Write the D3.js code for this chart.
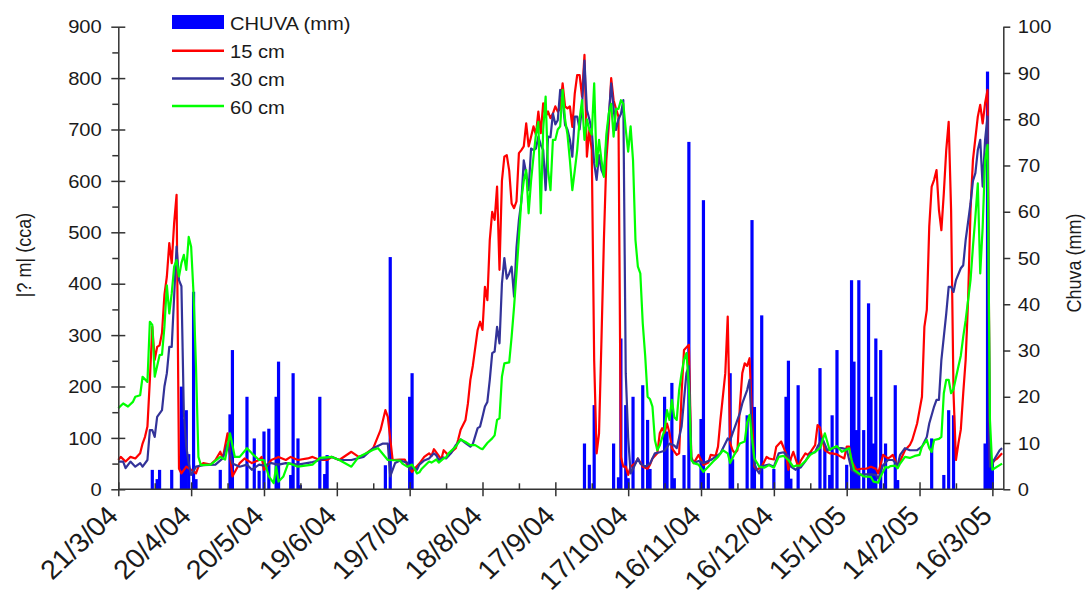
<!DOCTYPE html>
<html lang="pt">
<head>
<meta charset="UTF-8">
<title>Potencial matricial e chuva</title>
<script src="https://d3js.org/d3.v7.min.js"></script>
<style>
  body { margin: 0; background: #fff; }
  svg text { font-family: Arial, "Liberation Sans", sans-serif; fill: #1a1a1a; }
  .axis path, .axis line { stroke: #333; stroke-width: 1.5; }
</style>
</head>
<body>
<script>
// day 0 = 21/3/2004
const startDate = new Date(Date.UTC(2004, 2, 21));

// rainfall, [day, mm]
const chuva = [[14,4.2],[16,2.2],[17,4.2],[22,4.2],[26,22.2],[27,15.3],[28,17.1],[29,7.6],[31,42.7],[32,2.2],
  [42,4.2],[46,16.2],[47,30.1],[53,20],[56,11],[58,4],[60,12.5],[62,13.1],[65,20],[66,27.6],[71,3.1],[72,25.1],
  [74,11],[75,0.9],[83,20],[85,3.3],[86,7.4],[110,5.2],[112,50.2],[120,20],[121,25.1],
  [192,9.9],[194,5.3],[196,18.2],[204,9.9],[206,2.6],[207,32.6],[209,18.2],[210,2.4],[212,20],[216,22.5],
  [218,15],[219,4.4],[225,20],[226,12.5],[228,23],[229,2.4],[233,7.4],[235,75.1],[240,15.2],[241,62.5],
  [243,3.5],[252,25.1],[253,6.5],[259,16],[261,58.2],[262,17.8],[265,37.6],[270,4.4],[275,20],[276,27.8],
  [277,2.3],[280,22.5],[289,26.2],[291,8.9],[293,3.1],[294,16],[296,30.1],[300,5.3],[302,45.2],[303,27.6],
  [304,12.8],[305,45.2],[307,12.8],[309,40.2],[310,20],[311,9.9],[312,32.6],[314,30.1],[316,9.9],[320,22.5],
  [321,2],[335,11],[340,3.1],[342,17.1],[344,16],[357,9.9],[358,90.3],[359,9.2],[360,6.5]];

// 15 cm, [day, value]
const cm15 = [[0,57],[1,63],[3,54],[5,63],[7,60],[9,70],[10,89],[11,102],[12,122],[13,213],[14,316],[15,252],
  [16,277],[17,280],[18,304],[19,378],[20,414],[21,479],[22,440],[23,518],[24,573],[25,40],[26,31],[28,44],
  [30,38],[32,31],[33,44],[35,51],[38,48],[40,57],[42,73],[43,60],[45,109],[47,25],[50,51],[52,60],[55,51],
  [58,57],[59,63],[60,38],[63,57],[66,63],[69,57],[71,63],[74,57],[78,60],[80,63],[83,57],[86,57],[88,63],
  [91,57],[96,73],[99,63],[101,66],[105,80],[108,115],[110,154],[111,141],[113,57],[116,58],[118,58],[119,47],
  [121,34],[122,40],[124,50],[126,63],[128,70],[129,65],[130,78],[132,65],[133,58],[134,76],[136,66],[137,72],
  [139,80],[140,97],[141,116],[143,135],[144,167],[145,213],[146,240],[148,310],[149,326],[150,310],[151,394],
  [152,368],[153,485],[154,540],[155,524],[156,589],[157,427],[158,600],[159,647],[160,650],[161,620],[162,556],
  [163,547],[164,560],[165,654],[166,660],[167,667],[168,712],[169,667],[170,686],[171,706],[172,690],[173,735],
  [174,693],[175,751],[176,725],[177,735],[178,722],[179,731],[180,745],[181,735],[182,740],[183,790],[184,745],
  [185,741],[186,745],[187,705],[188,770],[189,806],[190,806],[191,764],[192,845],[193,647],[194,699],[195,660],
  [196,250],[197,70],[198,109],[199,291],[200,485],[201,640],[202,706],[203,800],[204,757],[205,740],[206,725],
  [207,63],[208,44],[209,44],[210,28],[211,44],[213,51],[214,60],[216,44],[218,40],[219,48],[220,60],[222,70],
  [223,109],[224,119],[225,110],[226,128],[227,110],[228,80],[230,67],[231,70],[232,187],[233,271],[235,281],
  [236,63],[237,51],[239,67],[240,57],[241,47],[243,52],[244,67],[246,65],[247,83],[248,135],[250,226],[251,336],
  [252,90],[253,76],[254,70],[255,76],[256,161],[257,226],[258,245],[259,240],[260,255],[261,141],[262,44],
  [263,38],[265,44],[267,63],[268,60],[270,58],[271,83],[273,93],[275,70],[276,38],[277,60],[278,73],[280,44],
  [281,55],[283,70],[284,67],[285,72],[287,86],[288,125],[289,120],[290,96],[291,76],[293,70],[294,70],[296,68],
  [297,65],[299,60],[300,83],[301,83],[302,55],[304,38],[306,40],[308,40],[310,44],[312,40],[313,31],[315,67],
  [317,60],[318,63],[319,67],[321,44],[322,55],[324,76],[326,86],[327,96],[329,128],[330,154],[331,180],[332,316],
  [333,349],[334,511],[335,589],[336,602],[337,621],[338,543],[339,504],[340,576],[341,660],[342,715],[343,543],
  [344,187],[345,57],[346,89],[347,116],[348,187],[349,252],[350,368],[351,543],[352,641],[354,725],[355,748],
  [356,712],[357,751],[358,777],[359,57],[360,51],[361,57],[362,60],[364,70]];

// 30 cm
const cm30 = [[0,54],[2,54],[3,41],[5,54],[7,44],[9,51],[10,44],[12,57],[13,115],[14,115],[15,102],[16,141],
  [18,154],[19,200],[20,226],[21,277],[22,277],[23,375],[24,472],[25,407],[26,395],[27,148],[28,83],[29,51],
  [30,28],[32,44],[35,47],[40,48],[43,60],[45,89],[47,50],[50,44],[53,48],[55,38],[58,48],[60,46],[63,51],
  [66,48],[69,51],[74,48],[80,53],[88,63],[91,57],[96,57],[101,63],[105,80],[109,89],[111,89],[112,25],[114,51],
  [116,56],[119,52],[120,38],[121,44],[123,38],[124,48],[126,56],[128,60],[130,70],[131,66],[132,57],[134,62],
  [135,60],[137,70],[139,86],[141,97],[143,90],[145,83],[146,88],[148,119],[149,122],[150,141],[151,161],[152,170],
  [153,213],[154,265],[155,268],[156,316],[157,284],[158,400],[159,450],[160,410],[161,420],[162,433],[163,375],
  [164,470],[165,524],[166,560],[167,640],[168,615],[169,582],[170,663],[171,660],[172,663],[173,686],[174,670],
  [175,660],[176,582],[177,686],[178,685],[179,731],[180,710],[181,718],[182,777],[183,760],[184,709],[185,700],
  [186,680],[187,647],[188,725],[189,725],[190,700],[191,745],[192,834],[193,738],[194,720],[195,699],[196,634],
  [197,602],[198,650],[199,621],[200,610],[201,673],[202,725],[203,790],[204,740],[205,699],[206,720],[207,730],
  [208,757],[209,226],[210,100],[211,31],[212,40],[214,60],[215,50],[217,44],[219,50],[221,70],[223,72],[225,75],
  [227,89],[229,85],[230,80],[232,122],[233,174],[234,226],[235,240],[236,60],[237,51],[239,55],[241,51],[243,55],
  [244,57],[246,63],[248,70],[250,89],[251,99],[252,95],[253,109],[254,122],[256,148],[257,167],[259,193],
  [260,213],[261,100],[262,50],[263,38],[264,31],[265,45],[268,48],[270,44],[272,70],[274,72],[276,64],[277,44],
  [279,38],[280,42],[281,42],[283,55],[285,70],[287,72],[288,83],[290,99],[292,76],[294,80],[295,80],[298,80],
  [300,78],[302,38],[305,28],[307,29],[310,29],[312,28],[313,21],[315,47],[317,57],[319,57],[321,47],[322,67],
  [324,80],[326,76],[329,76],[331,83],[333,102],[334,128],[336,161],[337,174],[338,174],[339,252],[341,342],
  [342,394],[343,394],[344,384],[345,407],[347,430],[348,436],[349,485],[350,520],[351,556],[352,600],[353,615],
  [354,660],[355,680],[356,589],[357,680],[358,725],[359,44],[360,50],[361,60],[363,76],[364,80]];

// 60 cm
const cm60 = [[0,158],[2,167],[4,161],[6,170],[7,180],[9,183],[10,219],[12,209],[13,326],[14,320],[15,219],
  [17,261],[18,262],[19,316],[20,397],[21,342],[22,381],[23,433],[24,446],[25,414],[26,440],[27,456],[28,427],
  [29,491],[30,472],[31,380],[32,239],[33,63],[34,47],[38,48],[42,63],[44,58],[46,109],[48,63],[50,63],[53,80],
  [55,70],[58,57],[60,57],[62,25],[64,12],[65,44],[66,15],[68,25],[70,51],[74,44],[80,48],[83,61],[88,63],[91,57],
  [96,44],[99,63],[105,77],[107,80],[111,57],[116,56],[117,50],[119,44],[121,48],[122,40],[123,31],[124,33],
  [125,40],[128,54],[129,52],[131,58],[132,52],[134,60],[135,62],[136,70],[139,83],[141,97],[143,92],[145,86],
  [147,86],[149,80],[150,78],[152,90],[154,99],[155,105],[156,135],[157,138],[158,219],[159,245],[161,247],
  [162,297],[163,355],[164,420],[165,490],[166,563],[167,600],[168,621],[169,537],[170,600],[171,647],[172,690],
  [173,715],[174,537],[175,700],[176,764],[177,620],[178,582],[179,680],[180,680],[181,700],[182,706],[183,777],
  [184,720],[185,690],[186,640],[187,582],[188,620],[189,660],[190,720],[191,757],[192,680],[193,720],[194,700],
  [195,690],[196,790],[197,628],[198,680],[199,640],[200,608],[201,690],[202,731],[203,750],[204,686],[205,740],
  [206,740],[207,757],[208,750],[209,700],[210,657],[211,706],[212,640],[213,485],[214,433],[215,420],[216,323],
  [217,260],[218,180],[219,175],[220,161],[221,96],[222,76],[223,85],[225,116],[226,154],[227,135],[228,174],
  [229,140],[230,135],[231,193],[232,226],[233,252],[234,265],[235,200],[236,57],[237,51],[239,48],[241,34],
  [243,44],[245,54],[247,63],[249,76],[251,70],[252,51],[254,70],[256,89],[258,93],[259,130],[260,145],[261,100],
  [262,60],[264,44],[266,42],[268,47],[270,42],[272,63],[274,65],[276,57],[278,44],[279,46],[281,46],[283,55],
  [285,67],[287,73],[289,80],[291,109],[293,76],[294,80],[296,84],[298,73],[299,75],[301,80],[302,57],[303,38],
  [305,31],[307,25],[310,24],[311,15],[313,13],[314,25],[316,44],[317,42],[318,45],[320,46],[321,41],[322,50],
  [324,63],[326,61],[328,65],[330,67],[331,83],[333,96],[334,80],[335,73],[336,96],[338,98],[339,102],[340,187],
  [341,213],[342,213],[343,187],[344,195],[346,239],[347,260],[348,297],[349,329],[350,368],[351,407],[352,472],
  [353,530],[354,595],[355,420],[356,510],[357,640],[358,670],[359,135],[360,38],[362,44],[364,50]];

const seriesNames = ["15 cm", "30 cm", "60 cm"];
const seriesData = [cm15, cm30, cm60];
const seriesColors = ["#ff0000", "#333399", "#00ff00"];
const rainLabel = "CHUVA (mm)";
const leftTicks = d3.range(0, 901, 100);
const leftMinor = d3.range(50, 900, 100);
const rightTicks = d3.range(0, 101, 10);
const majorDays = d3.range(0, 361, 30);
const minorDays = d3.range(15, 361, 30);

const width = 1088, height = 598;
const plot = { left: 118.3, right: 1003.3, top: 26.7, bottom: 489.3 };
const stretch = "scale(1.12,1)";

function day(d) {
  return new Date(startDate.getTime() + d * 864e5);
}

const svg = d3.select("body").append("svg")
  .attr("width", width).attr("height", height);

const x = d3.scaleUtc().domain([startDate, day(364.5)]).range([plot.left, plot.right]);
const y = d3.scaleLinear().domain([0, 900]).range([plot.bottom, plot.top]);
const yR = d3.scaleLinear().domain([0, 100]).range([plot.bottom, plot.top]);

// rain bars
svg.append("g").selectAll("rect").data(chuva).enter().append("rect")
  .attr("x", d => x(day(d[0])) - 1.6)
  .attr("width", 3.2)
  .attr("y", d => yR(d[1]))
  .attr("height", d => plot.bottom - yR(d[1]))
  .attr("fill", "#0000ff");

// soil lines
const line = d3.line().x(d => x(day(d[0]))).y(d => y(d[1]));
svg.append("g").selectAll("path").data(seriesData).enter().append("path")
  .attr("d", line)
  .attr("fill", "none")
  .attr("stroke", (d, i) => seriesColors[i])
  .attr("stroke-width", 2.2)
  .attr("stroke-linejoin", "round");

// left axis
const gL = svg.append("g").attr("class", "axis").attr("transform", "translate(" + plot.left + ",0)")
  .call(d3.axisLeft(y).tickValues(leftTicks).tickSize(7).tickSizeOuter(0));
gL.selectAll(".tick line").attr("x1", 7);
gL.selectAll(".tick text").attr("x", null).attr("dy", null)
  .attr("dominant-baseline", "central")
  .attr("transform", "translate(-16.5,0) " + stretch)
  .style("font-size", "18px");
svg.append("g").attr("class", "axis").attr("transform", "translate(" + plot.left + ",0)")
  .call(d3.axisLeft(y).tickValues(leftMinor).tickSize(6).tickFormat("").tickSizeOuter(0))
  .select(".domain").remove();

// right axis
const gR = svg.append("g").attr("class", "axis").attr("transform", "translate(" + plot.right + ",0)")
  .call(d3.axisRight(yR).tickValues(rightTicks).tickSize(7).tickSizeOuter(0));
gR.selectAll(".tick text").attr("x", null).attr("dy", null)
  .attr("dominant-baseline", "central")
  .attr("transform", "translate(14.5,0) " + stretch)
  .style("font-size", "18px");

// bottom axis
const fmt = d3.utcFormat("%-d/%-m/%y");
const gB = svg.append("g").attr("class", "axis").attr("transform", "translate(0," + plot.bottom + ")")
  .call(d3.axisBottom(x).tickValues(majorDays.map(day)).tickSize(7).tickSizeOuter(0).tickFormat(fmt));
gB.select(".domain").attr("d", "M" + plot.left + ",0H" + plot.right);
gB.selectAll(".tick line").attr("y1", -7);
gB.selectAll(".tick text").attr("y", null).attr("dy", null)
  .style("text-anchor", "end")
  .style("font-size", "27px")
  .attr("transform", "translate(1,28) scale(1.06,1) rotate(-45)");
svg.append("g").attr("class", "axis").attr("transform", "translate(0," + plot.bottom + ")")
  .call(d3.axisBottom(x).tickValues(minorDays.map(day)).tickSize(-6).tickFormat(""))
  .select(".domain").remove();

// axis titles
svg.append("text")
  .attr("transform", "translate(31,255) " + stretch + " rotate(-90)")
  .style("text-anchor", "middle").style("font-size", "18px")
  .text("|? m| (cca)");
svg.append("text")
  .attr("transform", "translate(1081,263) " + stretch + " rotate(-90)")
  .style("text-anchor", "middle").style("font-size", "18px")
  .text("Chuva (mm)");

// legend
const legend = svg.append("g");
legend.append("rect")
  .attr("x", 172).attr("y", 15).attr("width", 52).attr("height", 14)
  .attr("fill", "#0000ff");
legend.append("text")
  .attr("transform", "translate(230,29.5) " + stretch)
  .style("font-size", "18px")
  .text(rainLabel);
seriesNames.forEach(function (name, i) {
  const ly = 50.7 + i * 27.7;
  legend.append("line")
    .attr("x1", 172).attr("x2", 224).attr("y1", ly).attr("y2", ly)
    .attr("stroke", seriesColors[i]).attr("stroke-width", 2.5);
  legend.append("text")
    .attr("transform", "translate(230," + (ly + 7.7) + ") " + stretch)
    .style("font-size", "18px")
    .text(name);
});
</script>
</body>
</html>
